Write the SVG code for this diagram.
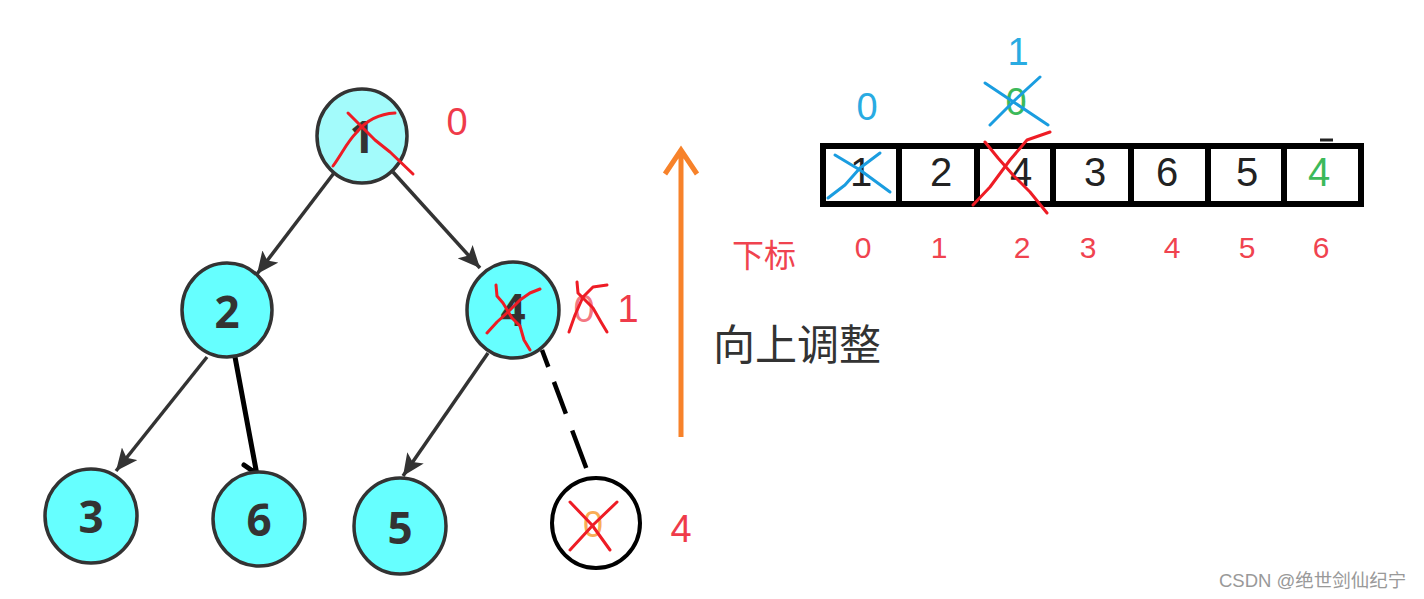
<svg xmlns="http://www.w3.org/2000/svg" width="1424" height="599" viewBox="0 0 1424 599">
<style>
.node{fill:#66ffff;stroke:#333;stroke-width:3.5}
.nt{font-family:"Open Sans","Liberation Sans",sans-serif;font-weight:bold;font-size:44px;fill:#333;text-anchor:middle}
.edge{stroke:#333;stroke-width:3.5;fill:none}
.red{font-family:"Liberation Sans",sans-serif;font-size:38px;fill:#ef3b4a;text-anchor:middle}
.idx{font-family:"Liberation Sans",sans-serif;font-size:30px;fill:#f0434f;text-anchor:middle}
.cell{font-family:"Liberation Sans",sans-serif;font-size:40px;fill:#222;text-anchor:middle}
.xr{stroke:#ee1c25;stroke-width:3;fill:none;stroke-linecap:round;stroke-linejoin:round}
.xb{stroke:#1a9de0;stroke-width:3;fill:none;stroke-linecap:round;stroke-linejoin:round}
.cjk{font-family:"Noto Sans CJK SC",sans-serif}
</style>
<defs>
<marker id="ah" markerUnits="userSpaceOnUse" markerWidth="24" markerHeight="20" refX="22" refY="10" orient="auto">
<path d="M0,0 L22,10 L0,20 L5,10 Z" fill="#333"/>
</marker>
</defs>
<rect width="1424" height="599" fill="#fff"/>

<g id="connectors">
<line class="edge" x1="334" y1="173" x2="257" y2="274" marker-end="url(#ah)"/>
<line class="edge" x1="393" y1="172" x2="480" y2="268" marker-end="url(#ah)"/>
<line class="edge" x1="207" y1="357" x2="116" y2="471" marker-end="url(#ah)"/>
<line class="edge" x1="488" y1="353" x2="403" y2="476" marker-end="url(#ah)"/>
<path d="M235,357 L257,475 M244,465 L257,474" stroke="#000" stroke-width="5" fill="none" stroke-linecap="round"/>
<path d="M542,350 L590,478" stroke="#000" stroke-width="4.5" fill="none" stroke-dasharray="18,16,34,18,40,14"/>
</g>

<g id="node-1">
<ellipse class="node" cx="362" cy="136" rx="45" ry="47" style="fill:#a3fbfb"/>
<text class="nt" x="362" y="153">1</text>
<path class="xr" d="M348,113 L360,125 L375,140 L390,152 L413,174"/>
<path class="xr" d="M395,113 C378,114 365,122 357,132 C347,142 343,152 333,166"/>
</g>
<text class="red" x="457" y="135">0</text>

<g id="node-2">
<ellipse class="node" cx="227" cy="310" rx="45" ry="47"/>
<text class="nt" x="227" y="328">2</text>
</g>

<g id="node-4">
<ellipse class="node" cx="513" cy="310" rx="46" ry="48"/>
<text class="nt" x="513" y="326">4</text>
<path class="xr" d="M496,285 L497,296 L503,303 L512,318 L520,326 L524,340 L530,350"/>
<path class="xr" d="M540,289 L530,293 L520,300 L508,312 L497,322 L487,333"/>
</g>
<text class="red" x="584" y="322" style="fill-opacity:0.7">0</text>
<path class="xr" d="M577,282 L578,293 L593,308 L601,322 L607,332"/>
<path class="xr" d="M607,285 L593,287 L583,297 L575,315 L569,332"/>
<text class="red" x="628" y="322">1</text>

<g id="node-3">
<ellipse class="node" cx="91" cy="516" rx="46" ry="47"/>
<text class="nt" x="91" y="533">3</text>
</g>

<g id="node-6">
<ellipse class="node" cx="259" cy="519" rx="46" ry="47"/>
<text class="nt" x="259" y="536">6</text>
</g>

<g id="node-5">
<ellipse class="node" cx="400" cy="526" rx="46" ry="48"/>
<text class="nt" x="400" y="544">5</text>
</g>

<g id="node-empty">
<ellipse cx="596" cy="523" rx="44" ry="45" fill="#fff" stroke="#000" stroke-width="4"/>
<text x="593" y="537" font-family="Liberation Sans,sans-serif" font-size="36" fill="#f7931e" fill-opacity="0.75" text-anchor="middle">0</text>
<path class="xr" d="M570,502 L592,525 L610,550"/>
<path class="xr" d="M617,502 L593,525 L570,550"/>
</g>
<text class="red" x="681" y="542">4</text>

<g id="up-arrow">
<path d="M681,437 L681,152 M665,174 L681,150 L697,174" stroke="#f7822a" stroke-width="5" fill="none"/>
<text x="713" y="360" class="cjk" font-size="42" fill="#333">向上调整</text>
</g>

<g id="array">
<rect x="823" y="146" width="538" height="58" fill="#fff" stroke="#000" stroke-width="6"/>
<path d="M899,146 V204 M977,146 V204 M1053,146 V204 M1131,146 V204 M1208,146 V204 M1284,146 V204" stroke="#000" stroke-width="6"/>
<path d="M1320,140 H1333" stroke="#222" stroke-width="3"/>
<text class="cell" x="861" y="186">1</text>
<text class="cell" x="941" y="186">2</text>
<text class="cell" x="1021" y="186">4</text>
<text class="cell" x="1095" y="186">3</text>
<text class="cell" x="1167" y="186">6</text>
<text class="cell" x="1247" y="186">5</text>
<text class="cell" x="1319" y="186" style="fill:#3cb95a">4</text>
<path class="xb" d="M835,155 L860,170 L890,192"/>
<path class="xb" d="M880,153 L860,168 L845,185 L828,198"/>
<path class="xr" d="M985,142 L998,158 L1013,175 L1030,192 L1047,213"/>
<path class="xr" d="M1050,132 L1027,140 L1010,160 L990,187 L973,205"/>
</g>

<g id="labels">
<text x="867" y="120" font-family="Liberation Sans,sans-serif" font-size="38" fill="#29abe2" text-anchor="middle">0</text>
<text x="1018" y="65" font-family="Liberation Sans,sans-serif" font-size="38" fill="#29abe2" text-anchor="middle">1</text>
<text x="1016" y="115" font-family="Liberation Sans,sans-serif" font-size="38" fill="#3cb95a" text-anchor="middle">0</text>
<path class="xb" d="M985,83 L1015,103 L1048,125"/>
<path class="xb" d="M1040,77 L1015,100 L990,125"/>
<text x="732" y="267" class="cjk" font-size="32" fill="#f0434f">下标</text>
<text class="idx" x="863" y="258">0</text>
<text class="idx" x="939" y="258">1</text>
<text class="idx" x="1022" y="258">2</text>
<text class="idx" x="1088" y="258">3</text>
<text class="idx" x="1172" y="258">4</text>
<text class="idx" x="1247" y="258">5</text>
<text class="idx" x="1321" y="258">6</text>
</g>

<text x="1219" y="587" font-family="Liberation Sans,'Noto Sans CJK SC',sans-serif" font-size="18.5" fill="#999">CSDN @绝世剑仙纪宁</text>
</svg>
